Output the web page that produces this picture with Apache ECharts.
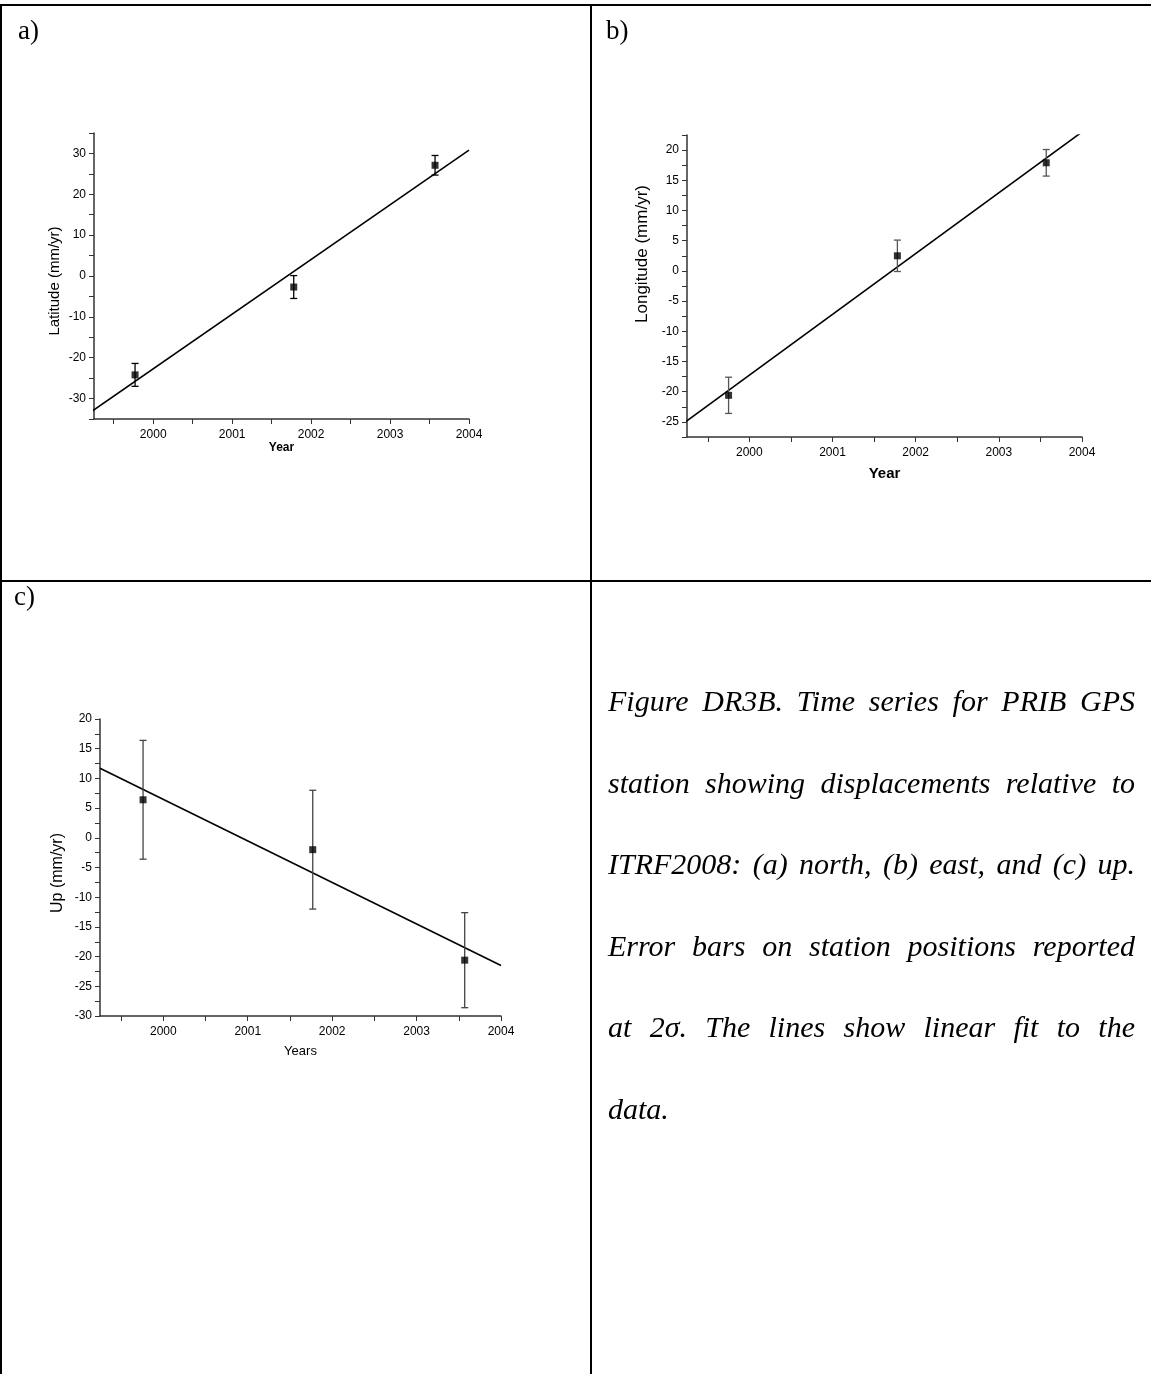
<!DOCTYPE html>
<html>
<head>
<meta charset="utf-8">
<script src="https://cdn.jsdelivr.net/npm/echarts@6/dist/echarts.min.js"></script>
<style>
  html, body { margin: 0; padding: 0; background: #fff; }
  #chart { position: absolute; left: 0; top: 0; width: 1151px; height: 1374px; }
  #caption {
    position: absolute; left: 608px; top: 660px; width: 527px;
    font-family: "Liberation Serif", "DejaVu Serif", serif;
    font-style: italic; font-size: 30px; line-height: 81.5px; color: #000;
  }
  #caption div { white-space: nowrap; text-align: justify; text-align-last: justify; }
  #caption div.last { text-align-last: left; }
</style>
</head>
<body>
<div id="chart"></div>
<div id="caption">
  <div>Figure DR3B. Time series for PRIB GPS</div>
  <div>station showing displacements relative to</div>
  <div>ITRF2008: (a) north, (b) east, and (c) up.</div>
  <div>Error bars on station positions reported</div>
  <div>at 2σ. The lines show linear fit to the</div>
  <div class="last">data.</div>
</div>
<script>
  // panel a: north
  const yearsA = [1999.77, 2001.78, 2003.57];
  const northA = [-24.2, -2.7, 27.1];
  const northErr = [2.8, 2.8, 2.4];
  const fitNorthX = [1999.23, 2004];
  const fitNorthY = [-33.0, 30.8];

  // panel b: east
  const yearsB = [1999.75, 2001.78, 2003.57];
  const eastB = [-20.6, 2.5, 17.9];
  const eastErr = [3.0, 2.6, 2.2];
  const fitEastX = [1999.24, 2004];
  const fitEastY = [-24.9, 23.0];

  // panel c: up
  const yearsC = [1999.76, 2001.77, 2003.57];
  const upC = [6.4, -2.0, -20.6];
  const upErr = [10.0, 10.0, 8.0];
  const fitUpX = [1999.25, 2004];
  const fitUpY = [11.7, -21.5];

  // tick labels
  const yearLabels = [2000, 2001, 2002, 2003, 2004];
  const yearTicks = [1999.5, 2000, 2000.5, 2001, 2001.5, 2002, 2002.5, 2003, 2003.5, 2004];
  const northLabels = [-30, -20, -10, 0, 10, 20, 30];
  const northTicks = [-35, -30, -25, -20, -15, -10, -5, 0, 5, 10, 15, 20, 25, 30, 35];
  const eastLabels = [-25, -20, -15, -10, -5, 0, 5, 10, 15, 20];
  const eastTicks = [-27.5, -25, -22.5, -20, -17.5, -15, -12.5, -10, -7.5, -5, -2.5, 0,
    2.5, 5, 7.5, 10, 12.5, 15, 17.5, 20, 22.5];
  const upLabels = [-30, -25, -20, -15, -10, -5, 0, 5, 10, 15, 20];
  const upTicks = [-30, -27.5, -25, -22.5, -20, -17.5, -15, -12.5, -10, -7.5, -5, -2.5, 0,
    2.5, 5, 7.5, 10, 12.5, 15, 17.5, 20];

  const sans = '"Liberation Sans", Arial, sans-serif';
  const serif = '"Liberation Serif", "Times New Roman", serif';
  const axisColor = '#333';

  function xAxis(idx, name, nameStyle, nameGap) {
    return {
      type: 'value', gridIndex: idx, min: 1999.25, max: 2004,
      name: name, nameLocation: 'middle', nameGap: nameGap,
      nameTextStyle: Object.assign({ color: '#000', fontFamily: sans }, nameStyle),
      axisLine: { show: true, onZero: false, lineStyle: { color: axisColor, width: 1.5 } },
      axisTick: { show: true, length: 5, customValues: yearTicks, lineStyle: { color: axisColor } },
      axisLabel: { customValues: yearLabels, color: '#000', fontSize: 12, fontFamily: sans, margin: 10,
        formatter: v => String(v) },
      splitLine: { show: false }
    };
  }

  function yAxis(idx, min, max, labels, ticks, name, nameSize, nameGap, pad) {
    return {
      type: 'value', gridIndex: idx, min: min, max: max,
      name: name, nameLocation: 'middle', nameGap: nameGap,
      nameTextStyle: { color: '#000', fontFamily: sans, fontSize: nameSize, padding: pad },
      axisLine: { show: true, onZero: false, lineStyle: { color: axisColor, width: 1.5 } },
      axisTick: { show: true, length: 5, customValues: ticks, lineStyle: { color: axisColor } },
      axisLabel: { customValues: labels, color: '#000', fontSize: 12, fontFamily: sans, margin: 8,
        formatter: v => String(v) },
      splitLine: { show: false }
    };
  }

  function errorBars(idx, xs, ys, errs, color) {
    return {
      type: 'custom', xAxisIndex: idx, yAxisIndex: idx, z: 3,
      data: xs.map((x, i) => [x, ys[i] - errs[i], ys[i] + errs[i]]),
      renderItem: (params, api) => {
        const top = api.coord([api.value(0), api.value(2)]);
        const bot = api.coord([api.value(0), api.value(1)]);
        const w = 3.5;
        const style = { stroke: color, lineWidth: 1.3 };
        return {
          type: 'group',
          children: [
            { type: 'line', shape: { x1: top[0], y1: top[1], x2: bot[0], y2: bot[1] }, style },
            { type: 'line', shape: { x1: top[0] - w, y1: top[1], x2: top[0] + w, y2: top[1] }, style },
            { type: 'line', shape: { x1: bot[0] - w, y1: bot[1], x2: bot[0] + w, y2: bot[1] }, style }
          ]
        };
      }
    };
  }

  function points(idx, xs, ys) {
    return {
      type: 'scatter', xAxisIndex: idx, yAxisIndex: idx, z: 4,
      symbol: 'rect', symbolSize: 7, itemStyle: { color: '#000' },
      data: xs.map((x, i) => [x, ys[i]])
    };
  }

  function fit(idx, xs, ys) {
    return {
      type: 'line', xAxisIndex: idx, yAxisIndex: idx, z: 2, clip: true,
      symbol: 'none', lineStyle: { color: '#000', width: 1.6 },
      data: xs.map((x, i) => [x, ys[i]])
    };
  }

  const chart = echarts.init(document.getElementById('chart'), null, { renderer: 'canvas' });

  const lineStyle = { stroke: '#000', lineWidth: 2 };
  chart.setOption({
    animation: false,
    backgroundColor: '#fff',
    grid: [
      { left: 94, top: 133, width: 375, height: 286 },
      { left: 687, top: 135, width: 395, height: 302 },
      { left: 100, top: 719, width: 401, height: 297 }
    ],
    xAxis: [
      xAxis(0, 'Year', { fontSize: 12, fontWeight: 'bold' }, 22),
      xAxis(1, 'Year', { fontSize: 15, fontWeight: 'bold' }, 29),
      xAxis(2, 'Years', { fontSize: 13 }, 29)
    ],
    yAxis: [
      yAxis(0, -35, 35, northLabels, northTicks, 'Latitude (mm/yr)', 15, 32, [0, 10, 0, 0]),
      yAxis(1, -27.5, 22.5, eastLabels, eastTicks, 'Longitude (mm/yr)', 17, 36, [0, 0, 0, 64]),
      yAxis(2, -30, 20, upLabels, upTicks, 'Up (mm/yr)', 16, 34, [0, 11, 0, 0])
    ],
    series: [
      fit(0, fitNorthX, fitNorthY),
      errorBars(0, yearsA, northA, northErr, '#000'),
      points(0, yearsA, northA),
      fit(1, fitEastX, fitEastY),
      errorBars(1, yearsB, eastB, eastErr, '#555'),
      points(1, yearsB, eastB),
      fit(2, fitUpX, fitUpY),
      errorBars(2, yearsC, upC, upErr, '#444'),
      points(2, yearsC, upC)
    ],
    graphic: [
      { type: 'line', shape: { x1: 0, y1: 5, x2: 1151, y2: 5 }, style: lineStyle },
      { type: 'line', shape: { x1: 1, y1: 4, x2: 1, y2: 1374 }, style: lineStyle },
      { type: 'line', shape: { x1: 591, y1: 4, x2: 591, y2: 1374 }, style: lineStyle },
      { type: 'line', shape: { x1: 0, y1: 581, x2: 1151, y2: 581 }, style: lineStyle },
      { type: 'text', left: 18, top: 18, style: { text: 'a)', font: '27px ' + serif, fill: '#000' } },
      { type: 'text', left: 606, top: 18, style: { text: 'b)', font: '27px ' + serif, fill: '#000' } },
      { type: 'text', left: 14, top: 584, style: { text: 'c)', font: '27px ' + serif, fill: '#000' } }
    ]
  });
</script>
</body>
</html>
